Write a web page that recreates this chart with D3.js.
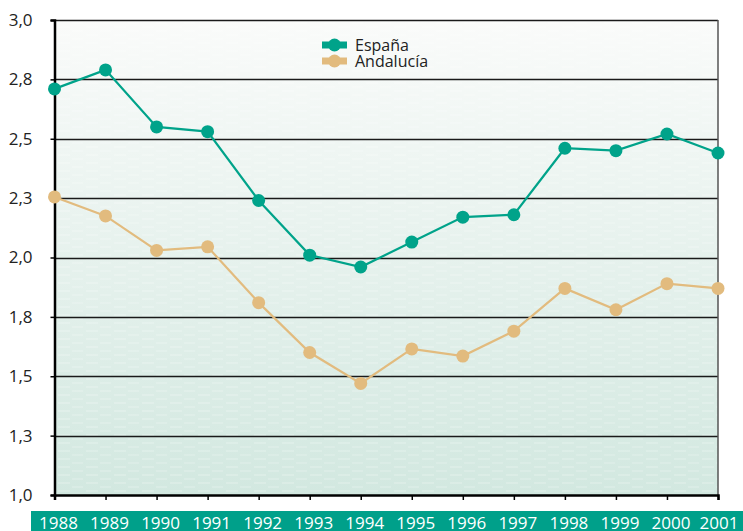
<!DOCTYPE html>
<html lang="es">
<head>
<meta charset="UTF-8">
<title>España / Andalucía</title>
<script src="https://d3js.org/d3.v7.min.js"></script>
<style>
  body { margin: 0; background: #fff; }
  svg { display: block; }
  text { font-family: "Open Sans", "Noto Sans", sans-serif; }
</style>
</head>
<body>
<svg></svg>
<script>
// data
var years = [1988, 1989, 1990, 1991, 1992, 1993, 1994, 1995, 1996, 1997, 1998, 1999, 2000, 2001];
var espana = [2.71, 2.79, 2.55, 2.53, 2.24, 2.01, 1.96, 2.065, 2.17, 2.18, 2.46, 2.45, 2.52, 2.44];
var andalucia = [2.255, 2.175, 2.03, 2.045, 1.81, 1.60, 1.47, 1.615, 1.585, 1.69, 1.87, 1.78, 1.89, 1.87];
var yTicks = [1.0, 1.25, 1.5, 1.75, 2.0, 2.25, 2.5, 2.75, 3.0];
var seriesNames = ["España", "Andalucía"];
var seriesColors = ["#00a38a", "#e2bb7e"];

var W = 743, H = 531;
var svg = d3.select("svg").attr("width", W).attr("height", H);

// plot box
var plotL = 54.5, plotR = 718, plotT = 20, plotB = 495;

var x = d3.scaleLinear().domain([1988, 2001]).range([plotL, plotR]);
var y = d3.scaleLinear().domain([1, 3]).range([plotB, plotT]);

// background gradient
var defs = svg.append("defs");
var grad = defs.append("linearGradient").attr("id", "bg").attr("x1", 0).attr("y1", 0).attr("x2", 0).attr("y2", 1);
grad.append("stop").attr("offset", "0%").attr("stop-color", "#fafbfa");
grad.append("stop").attr("offset", "100%").attr("stop-color", "#d2e8e0");

// faint white dash texture
var pat = defs.append("pattern").attr("id", "dash")
    .attr("width", 28).attr("height", 8).attr("patternUnits", "userSpaceOnUse");
pat.append("line").attr("x1", 2).attr("x2", 14).attr("y1", 3).attr("y2", 3)
    .attr("stroke", "#fff").attr("stroke-opacity", 0.35).attr("stroke-width", 1);
pat.append("line").attr("x1", 16).attr("x2", 27).attr("y1", 7).attr("y2", 7)
    .attr("stroke", "#fff").attr("stroke-opacity", 0.3).attr("stroke-width", 1);

svg.append("rect").attr("x", plotL).attr("y", plotT)
    .attr("width", plotR - plotL).attr("height", plotB - plotT)
    .attr("fill", "url(#bg)");
svg.append("rect").attr("x", plotL).attr("y", plotT)
    .attr("width", plotR - plotL).attr("height", plotB - plotT)
    .attr("fill", "url(#dash)");

// horizontal grid lines
svg.append("g").selectAll("line")
    .data(yTicks.slice(1)).enter().append("line")
    .attr("x1", plotL).attr("x2", plotR)
    .attr("y1", d => Math.round(y(d)) + 0.5).attr("y2", d => Math.round(y(d)) + 0.5)
    .attr("stroke", "#1a1a1a").attr("stroke-width", 1.6);

// right border
svg.append("line").attr("x1", plotR).attr("x2", plotR).attr("y1", plotT).attr("y2", plotB)
    .attr("stroke", "#555").attr("stroke-width", 1.5);

// y axis
var yAxis = d3.axisLeft(y).tickValues(yTicks).tickSize(4).tickPadding(18)
    .tickFormat(d => d3.format(".1f")(d).replace(".", ","));
var gy = svg.append("g").attr("transform", "translate(" + plotL + ",0)").call(yAxis);
gy.select(".domain").attr("stroke", "#000").attr("stroke-width", 2.5);
gy.selectAll(".tick line").attr("stroke", "#000").attr("stroke-width", 1.5);
gy.selectAll(".tick text").attr("font-size", 17).attr("fill", "#222")
    .attr("font-family", "'Open Sans', sans-serif");

// x axis
var xAxis = d3.axisBottom(x).tickValues(years).tickSize(5).tickFormat("");
var gx = svg.append("g").attr("transform", "translate(0," + plotB + ")").call(xAxis);
gx.select(".domain").attr("stroke", "#000").attr("stroke-width", 2.5);
gx.selectAll(".tick line").attr("stroke", "#000").attr("stroke-width", 1.5);

// green year band
svg.append("rect").attr("x", 31).attr("y", 511).attr("width", W - 31).attr("height", H - 511)
    .attr("fill", "#00a08a");
svg.append("g").selectAll("text")
    .data(years).enter().append("text")
    .attr("x", (d, i) => x(d) + (i === years.length - 1 ? 1 : 4))
    .attr("y", 529)
    .attr("text-anchor", "middle")
    .attr("font-size", 17)
    .attr("fill", "#fff")
    .text(d => d);

// series
var line = d3.line().x((d, i) => x(years[i])).y(d => y(d));
[espana, andalucia].forEach(function(vals, s) {
    var g = svg.append("g");
    g.append("path").datum(vals).attr("d", line)
        .attr("fill", "none").attr("stroke", seriesColors[s]).attr("stroke-width", 2.2);
    g.selectAll("circle").data(vals).enter().append("circle")
        .attr("cx", (d, i) => x(years[i])).attr("cy", d => y(d))
        .attr("r", 6.5).attr("fill", seriesColors[s]);
});

// legend
var legend = svg.append("g").attr("transform", "translate(322,45)");
seriesNames.forEach(function(name, i) {
    var g = legend.append("g").attr("transform", "translate(0," + (i * 16) + ")");
    g.append("rect").attr("x", 0).attr("y", -3.5).attr("width", 25).attr("height", 7)
        .attr("fill", seriesColors[i]);
    g.append("circle").attr("cx", 12.5).attr("cy", 0).attr("r", 6.5).attr("fill", seriesColors[i]);
    g.append("text").attr("x", 33).attr("y", 6).attr("font-size", 16).attr("fill", "#222").text(name);
});
</script>
</body>
</html>
